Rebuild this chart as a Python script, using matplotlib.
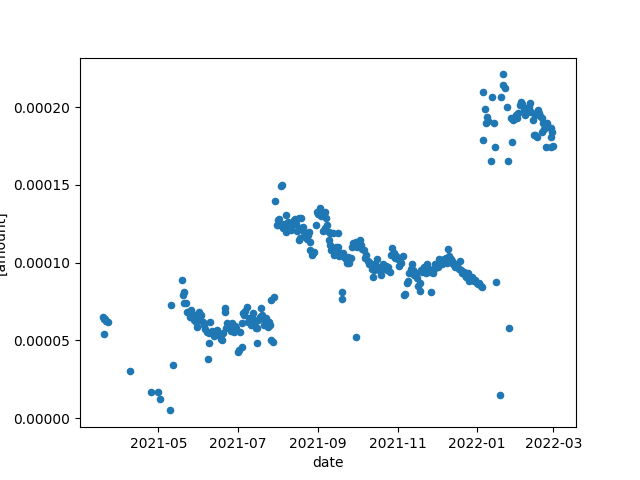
import matplotlib
matplotlib.use("Agg")
import matplotlib.pyplot as plt
import pandas as pd

# dates and amounts (amount in units of 1e-5)
dates = [
    "2021-03-19", "2021-03-20", "2021-03-21", "2021-03-22", "2021-03-23", "2021-03-20",
    "2021-04-09", "2021-04-25", "2021-05-01", "2021-05-02", "2021-05-10", "2021-05-11", "2021-05-12",
    # may - july
    "2021-05-19", "2021-05-20", "2021-05-21", "2021-05-21", "2021-05-22", "2021-05-23", "2021-05-24",
    "2021-05-25", "2021-05-26", "2021-05-27", "2021-05-28", "2021-05-29", "2021-05-30", "2021-05-31",
    "2021-06-01", "2021-06-02", "2021-06-03", "2021-06-04", "2021-06-05", "2021-06-06", "2021-06-07",
    "2021-06-08", "2021-06-09", "2021-06-09", "2021-06-10", "2021-06-11", "2021-06-12", "2021-06-13",
    "2021-06-14", "2021-06-15", "2021-06-16", "2021-06-17", "2021-06-18", "2021-06-19", "2021-06-20",
    "2021-06-21", "2021-06-21", "2021-06-22", "2021-06-23", "2021-06-24", "2021-06-25", "2021-06-26",
    "2021-06-27", "2021-06-28", "2021-06-29", "2021-06-30", "2021-07-01", "2021-07-02", "2021-07-03",
    "2021-07-04", "2021-07-04", "2021-07-05", "2021-07-06", "2021-07-07", "2021-07-08", "2021-07-09",
    "2021-07-10", "2021-07-11", "2021-07-12", "2021-07-13", "2021-07-14", "2021-07-15", "2021-07-16",
    "2021-07-16", "2021-07-17", "2021-07-18", "2021-07-19", "2021-07-20", "2021-07-21", "2021-07-22",
    "2021-07-23", "2021-07-24", "2021-07-25", "2021-07-26", "2021-07-27", "2021-07-27", "2021-07-28",
    "2021-07-29",
    # august - december
    "2021-07-30", "2021-07-31", "2021-08-01", "2021-08-01", "2021-08-02", "2021-08-03", "2021-08-04",
    "2021-08-05", "2021-08-06", "2021-08-07", "2021-08-07", "2021-08-08", "2021-08-09", "2021-08-10",
    "2021-08-11", "2021-08-12", "2021-08-13", "2021-08-14", "2021-08-15", "2021-08-16", "2021-08-17",
    "2021-08-17", "2021-08-18", "2021-08-19", "2021-08-19", "2021-08-20", "2021-08-21", "2021-08-22",
    "2021-08-23", "2021-08-24", "2021-08-25", "2021-08-26", "2021-08-26", "2021-08-27", "2021-08-28",
    "2021-08-29", "2021-08-30", "2021-08-31", "2021-09-01", "2021-09-02", "2021-09-03", "2021-09-04",
    "2021-09-05", "2021-09-06", "2021-09-06", "2021-09-07", "2021-09-08", "2021-09-09", "2021-09-09",
    "2021-09-10", "2021-09-10", "2021-09-11", "2021-09-12", "2021-09-12", "2021-09-13", "2021-09-14",
    "2021-09-15", "2021-09-16", "2021-09-16", "2021-09-17", "2021-09-18", "2021-09-19", "2021-09-19",
    "2021-09-20", "2021-09-21", "2021-09-22", "2021-09-23", "2021-09-24", "2021-09-24", "2021-09-25",
    "2021-09-26", "2021-09-27", "2021-09-28", "2021-09-29", "2021-09-30", "2021-09-30", "2021-10-01",
    "2021-10-02", "2021-10-03", "2021-10-04", "2021-10-05", "2021-10-06", "2021-10-07", "2021-10-08",
    "2021-10-09", "2021-10-10", "2021-10-11", "2021-10-12", "2021-10-13", "2021-10-13", "2021-10-14",
    "2021-10-15", "2021-10-16", "2021-10-17", "2021-10-18", "2021-10-19", "2021-10-20", "2021-10-21",
    "2021-10-22", "2021-10-23", "2021-10-24", "2021-10-25", "2021-10-26", "2021-10-27", "2021-10-28",
    "2021-10-29", "2021-10-30", "2021-10-31", "2021-11-01", "2021-11-02", "2021-11-03", "2021-11-04",
    "2021-11-05", "2021-11-06", "2021-11-07", "2021-11-08", "2021-11-09", "2021-11-10", "2021-11-11",
    "2021-11-12", "2021-11-13", "2021-11-14", "2021-11-15", "2021-11-16", "2021-11-17", "2021-11-18",
    "2021-11-18", "2021-11-19", "2021-11-20", "2021-11-21", "2021-11-22", "2021-11-23", "2021-11-24",
    "2021-11-25", "2021-11-26", "2021-11-27", "2021-11-28", "2021-11-29", "2021-11-30", "2021-12-01",
    "2021-12-02", "2021-12-03", "2021-12-04", "2021-12-05", "2021-12-06", "2021-12-07", "2021-12-08",
    "2021-12-09", "2021-12-10", "2021-12-11", "2021-12-12", "2021-12-13", "2021-12-14", "2021-12-15",
    "2021-12-16", "2021-12-17", "2021-12-18", "2021-12-19", "2021-12-20", "2021-12-21", "2021-12-22",
    "2021-12-23", "2021-12-24", "2021-12-25", "2021-12-26", "2021-12-27", "2021-12-28", "2021-12-29",
    "2021-12-30", "2021-12-31", "2022-01-01", "2022-01-02", "2022-01-03", "2022-01-04", "2022-01-05",
    # january - february 2022
    "2022-01-06", "2022-01-06", "2022-01-07", "2022-01-08", "2022-01-09", "2022-01-10", "2022-01-12",
    "2022-01-13", "2022-01-14", "2022-01-15", "2022-01-16", "2022-01-19", "2022-01-20", "2022-01-21",
    "2022-01-21", "2022-01-23", "2022-01-24", "2022-01-25", "2022-01-26", "2022-01-27", "2022-01-28",
    "2022-01-29", "2022-01-30", "2022-01-31", "2022-02-01", "2022-02-02", "2022-02-03", "2022-02-04",
    "2022-02-05", "2022-02-06", "2022-02-07", "2022-02-07", "2022-02-08", "2022-02-09", "2022-02-10",
    "2022-02-11", "2022-02-12", "2022-02-13", "2022-02-14", "2022-02-15", "2022-02-15", "2022-02-16",
    "2022-02-17", "2022-02-18", "2022-02-19", "2022-02-20", "2022-02-20", "2022-02-21", "2022-02-22",
    "2022-02-23", "2022-02-24", "2022-02-25", "2022-02-27", "2022-02-27", "2022-02-27", "2022-02-28",
    "2022-03-01",
]

amount_e5 = [
    6.5, 6.4, 6.35, 6.25, 6.15, 5.4,
    3.0, 1.65, 1.65, 1.24, 0.49, 7.25, 3.4,
    # may - july
    8.87, 7.9, 8.08, 7.37, 7.37, 6.8, 6.83,
    6.51, 6.94, 6.6, 6.3, 6.62, 6.19, 5.87,
    6.83, 6.5, 6.62, 6.19, 6.0, 5.7, 5.55,
    3.8, 5.44, 4.8, 6.19, 5.6, 5.5, 5.3,
    5.6, 5.66, 5.4, 5.34, 5.1, 5.0, 5.5,
    7.05, 6.83, 5.8, 6.09, 5.9, 5.77, 5.6,
    6.09, 5.55, 5.9, 5.77, 4.26, 4.4, 5.55,
    6.09, 4.58, 6.73, 6.62, 6.9, 7.16, 6.2,
    6.41, 5.98, 6.5, 6.73, 6.19, 5.8, 5.77,
    4.8, 6.3, 6.5, 7.05, 6.62, 5.98, 6.2,
    6.41, 5.87, 6.19, 6.0, 7.59, 5.0, 4.9,
    7.76,
    # august - december
    13.95, 12.4, 12.73, 12.4, 12.77, 14.94, 14.98,
    12.2, 12.5, 13.05, 11.98, 12.2, 12.6, 12.4,
    12.1, 12.4, 12.73, 12.8, 12.5, 12.0, 12.84,
    11.45, 11.6, 12.84, 12.2, 12.3, 11.98, 11.7,
    11.5, 11.8, 11.98, 11.34, 10.8, 10.5, 10.6,
    10.7, 12.4, 13.27, 13.1, 13.48, 13.0, 13.16,
    12.0, 13.27, 12.2, 12.84, 12.4, 11.98, 11.45,
    11.88, 11.12, 10.8, 11.88, 10.8, 10.5, 10.6,
    11.0, 11.88, 11.0, 10.4, 10.6, 8.12, 7.63,
    10.6, 10.37, 10.2, 10.0, 10.16, 10.37, 10.0,
    10.3, 11.0, 11.23, 11.23, 5.2, 11.34, 11.0,
    11.2, 11.45, 11.12, 10.9, 10.8, 10.3, 10.5,
    10.1, 9.9, 10.0, 9.6, 9.8, 9.09, 9.5,
    9.9, 10.2, 9.7, 9.5, 9.2, 9.6, 9.9,
    9.7, 9.8, 9.5, 9.7, 9.4, 10.5, 10.91,
    10.6, 10.3, 10.4, 10.2, 9.8, 10.1, 10.0,
    10.4, 7.9, 8.0, 8.7, 8.8, 9.3, 9.6,
    9.88, 9.5, 9.2, 9.3, 9.0, 8.5, 8.7,
    8.2, 9.5, 9.4, 9.7, 9.5, 9.3, 9.9,
    9.6, 9.4, 8.12, 9.3, 9.6, 9.9, 9.8,
    9.7, 10.2, 10.0, 9.9, 10.1, 10.2, 10.3,
    10.0, 10.87, 10.4, 10.2, 10.1, 9.9, 9.7,
    9.9, 9.8, 9.6, 10.1, 9.5, 9.3, 9.4,
    9.2, 9.1, 9.3, 8.8, 9.0, 9.1, 8.9,
    8.8, 8.9, 8.7, 8.6, 8.7, 8.5, 8.44,
    # january - february 2022
    17.88, 20.98, 19.87, 18.95, 19.37, 19.1, 16.54,
    20.66, 19.0, 17.44, 8.72, 1.48, 20.66, 22.1,
    21.4, 21.2, 20.0, 16.54, 5.77, 19.27, 17.77,
    19.16, 19.2, 19.48, 19.3, 19.6, 20.1, 20.34,
    20.2, 19.8, 19.91, 19.48, 19.6, 19.9, 20.0,
    20.24, 19.7, 19.16, 18.2, 19.48, 18.2, 18.1,
    19.8, 19.6, 19.4, 19.27, 18.41, 18.95, 18.6,
    17.44, 18.95, 18.7, 18.63, 18.09, 17.44, 18.4,
    17.5,
]

df = pd.DataFrame({"date": pd.to_datetime(dates),
                   "amount": [v * 1e-5 for v in amount_e5]})

fig, ax = plt.subplots(figsize=(6.4, 4.8), dpi=100)
ax.scatter(df["date"], df["amount"], s=20, color="#1f77b4")
ax.set_xlabel("date")
ax.set_ylabel("[amount]")  # clipped at the left edge, same as the original

fig.savefig("out.png")
